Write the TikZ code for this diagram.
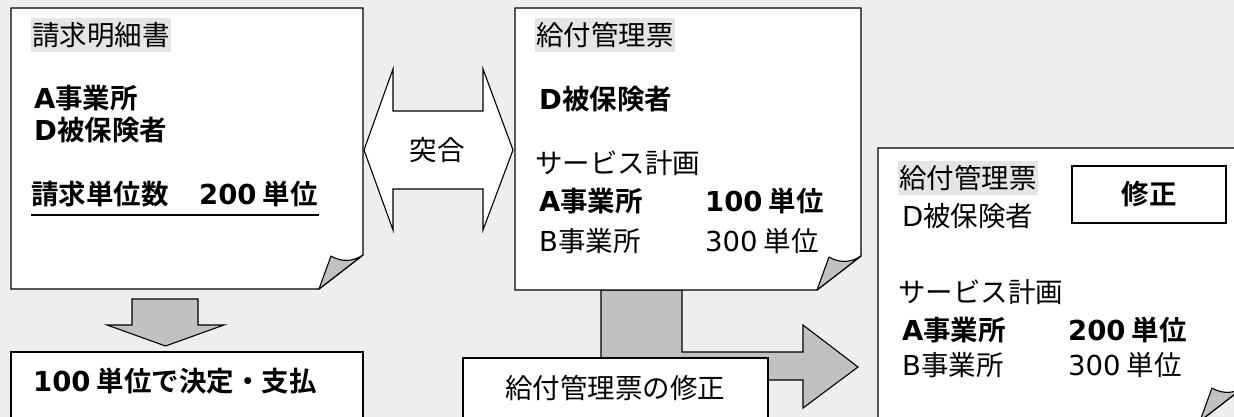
\documentclass[tikz,border=0pt]{standalone}
\usepackage{fontspec}
\setmainfont{Noto Sans CJK JP}[BoldFont={Noto Sans CJK JP Bold}]
\newfontfamily\latfont{DejaVu Sans}
\newcommand{\lat}[1]{{\latfont #1}}
\usepackage{tikz}

\definecolor{bggray}{HTML}{EEEEEE}
\definecolor{arrowgray}{HTML}{C0C1C0}
\definecolor{titlegray}{HTML}{E4E5E4}

\tikzset{
  pageline/.style={draw=black, line width=1.3pt, fill=white, line join=miter},
  foldline/.style={draw=black, line width=1.1pt, fill=arrowgray, line join=round},
  blockarrow/.style={draw=black, line width=1.1pt, line join=miter},
  lbl/.style={anchor=west, inner sep=0pt, font=\fontsize{27.5}{32}\selectfont},
  boldlbl/.style={lbl, font=\fontsize{27.5}{32}\selectfont\bfseries},
  titlelbl/.style={lbl, fill=titlegray, inner xsep=1pt, inner ysep=4pt}
}

% page with a curled corner at the bottom right: left, top, right, bottom
\newcommand{\docpage}[4]{
  \draw[pageline] (#1,#2) -- (#3,#2) -- (#3,#4-34) -- (#3-44,#4) -- (#1,#4) -- cycle;
  \draw[foldline] (#3,#4-34) .. controls (#3-10,#4-27) and (#3-22,#4-27) .. (#3-32,#4-33)
        -- (#3-44,#4) -- cycle;
}

\begin{document}
\begin{tikzpicture}[x=1pt, y=-1pt]

        \path[use as bounding box, fill=bggray] (0,0) rectangle (1234,417);
        \clip (0,0) rectangle (1234,417);

        % ####################################### claim statement
        \docpage{11}{8}{363}{289}
        \node[titlelbl] (title1) at (31,35) {請求明細書};
        \node[boldlbl] (office1) at (34,98) {\lat{A}事業所};
        \node[boldlbl] (insured1) at (34,130) {\lat{D}被保険者};
        \node[boldlbl] (claim1) at (31,194) {請求単位数};
        \node[boldlbl] (units1) at (199,194) {\lat{200} 単位};
        \draw[line width=1.6pt] (31,215) -- (319,215);

        \draw[blockarrow, fill=arrowgray] (132,299) -- (198,299) -- (198,325) -- (224,325)
        -- (165.5,346) -- (107,325) -- (132,325) -- cycle;

        \draw[pageline] (11,352) rectangle (363,440);
        \node[boldlbl] (decide) at (33,381) {\lat{100} 単位で決定・支払};

        % ####################################### check
        \draw[blockarrow, fill=white] (364,150) -- (393,69) -- (393,111) -- (483,111) -- (483,69)
        -- (513,150) -- (483,230) -- (483,189) -- (393,189) -- (393,230) -- cycle;
        \node[lbl, anchor=center] (check) at (437,150) {突合};

        % ####################################### benefit management slip
        \draw[blockarrow, fill=arrowgray] (601,290) -- (682,290) -- (682,352) -- (803,352)
        -- (803,325) -- (858,367) -- (803,408) -- (803,380) -- (601,380) -- cycle;

        \docpage{515}{8}{861}{290}
        \node[titlelbl] (title2) at (535,35) {給付管理票};
        \node[boldlbl] (insured2) at (539,99) {\lat{D}被保険者};
        \node[lbl] (plan2) at (535,163) {サービス計画};
        \node[boldlbl] (officeA2) at (539,201) {\lat{A}事業所};
        \node[boldlbl] (unitsA2) at (705,201) {\lat{100} 単位};
        \node[lbl] (officeB2) at (539,241) {\lat{B}事業所};
        \node[lbl] (unitsB2) at (705,241) {\lat{300} 単位};

        \draw[pageline] (463,358) rectangle (768,440);
        \node[lbl, anchor=center] (fix) at (615,388) {給付管理票の修正};

        % ####################################### corrected slip
        \docpage{878}{148}{1244}{421}
        \node[titlelbl] (title3) at (898,178) {給付管理票};
        \node[lbl] (insured3) at (902,216) {\lat{D}被保険者};
        \draw[line width=1.3pt, fill=white] (1072,166) rectangle (1226,223);
        \node[boldlbl, anchor=center] (fixed) at (1149,194) {修正};
        \node[lbl] (plan3) at (898,292) {サービス計画};
        \node[boldlbl] (officeA3) at (902,330) {\lat{A}事業所};
        \node[boldlbl] (unitsA3) at (1068,330) {\lat{200} 単位};
        \node[lbl] (officeB3) at (902,365) {\lat{B}事業所};
        \node[lbl] (unitsB3) at (1068,365) {\lat{300} 単位};

    \end{tikzpicture}
\end{document}
